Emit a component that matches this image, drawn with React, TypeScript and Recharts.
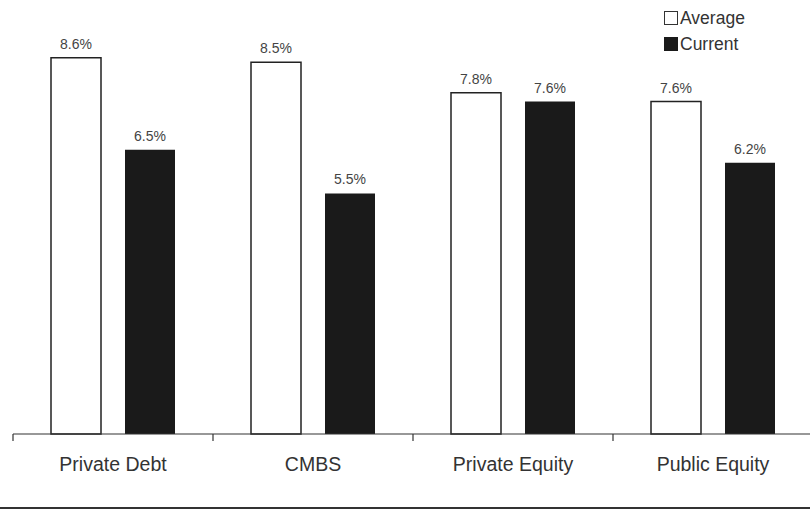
import React from 'react';
import { BarChart, Bar, XAxis, YAxis, LabelList } from 'recharts';

const categories = ['Private Debt', 'CMBS', 'Private Equity', 'Public Equity'];
const averageValues = [8.6, 8.5, 7.8, 7.6];
const currentValues = [6.5, 5.5, 7.6, 6.2];

const data = categories.map((name, i) => ({
  name,
  average: averageValues[i],
  current: currentValues[i],
}));

const font = '"Liberation Sans", Arial, sans-serif';

// category label in the middle, tick mark on the left edge of each band
const CategoryTick = (props: any) => {
  const { x, y, payload } = props;
  const off = payload && payload.offset ? payload.offset : 0;
  return (
    <g>
      <line x1={x - off} x2={x - off} y1={y - 8} y2={y - 1} stroke="#333" strokeWidth={1.2} />
      <text x={x} y={y + 29} textAnchor="middle" fontSize={19.5} fill="#333" fontFamily={font}>
        {payload.value}
      </text>
    </g>
  );
};

const LegendBox = () => (
  <div style={{ position: 'absolute', left: 664, top: 5, fontFamily: font, fontSize: 17.5, color: '#333', lineHeight: '26px' }}>
    <div style={{ display: 'flex', alignItems: 'center' }}>
      <span style={{ width: 14, height: 14, border: '1.5px solid #333', background: '#fff', boxSizing: 'border-box', marginRight: 2 }} />
      Average
    </div>
    <div style={{ display: 'flex', alignItems: 'center' }}>
      <span style={{ width: 14, height: 14, background: '#1a1a1a', marginRight: 2 }} />
      Current
    </div>
  </div>
);

const App: React.FC = () => {
  return (
    <div style={{ position: 'absolute', left: 0, top: 0, width: 810, height: 510, background: '#fff', overflow: 'hidden' }}>
      <BarChart
        width={813}
        height={510}
        data={data}
        margin={{ top: 1, right: 0, left: 13, bottom: 0 }}
        barSize={50}
        barGap={24}
      >
        <XAxis
          dataKey="name"
          axisLine={{ stroke: '#333', strokeWidth: 1.2 }}
          tickLine={false}
          tick={<CategoryTick />}
          height={76}
          interval={0}
        />
        <YAxis hide domain={[0, 9.9]} />
        <Bar dataKey="average" name="Average" fill="#fff" stroke="#222" strokeWidth={1.5} isAnimationActive={false}>
          <LabelList dataKey="average" position="top" offset={9} formatter={(v: any) => `${v}%`} style={{ fontSize: 14, fill: '#444', fontFamily: font }} />
        </Bar>
        <Bar dataKey="current" name="Current" fill="#1a1a1a" isAnimationActive={false}>
          <LabelList dataKey="current" position="top" offset={9} formatter={(v: any) => `${v}%`} style={{ fontSize: 14, fill: '#444', fontFamily: font }} />
        </Bar>
      </BarChart>
      <LegendBox />
      <div style={{ position: 'absolute', left: 0, top: 507, width: 810, height: 2, background: '#333' }} />
    </div>
  );
};

export default App;
